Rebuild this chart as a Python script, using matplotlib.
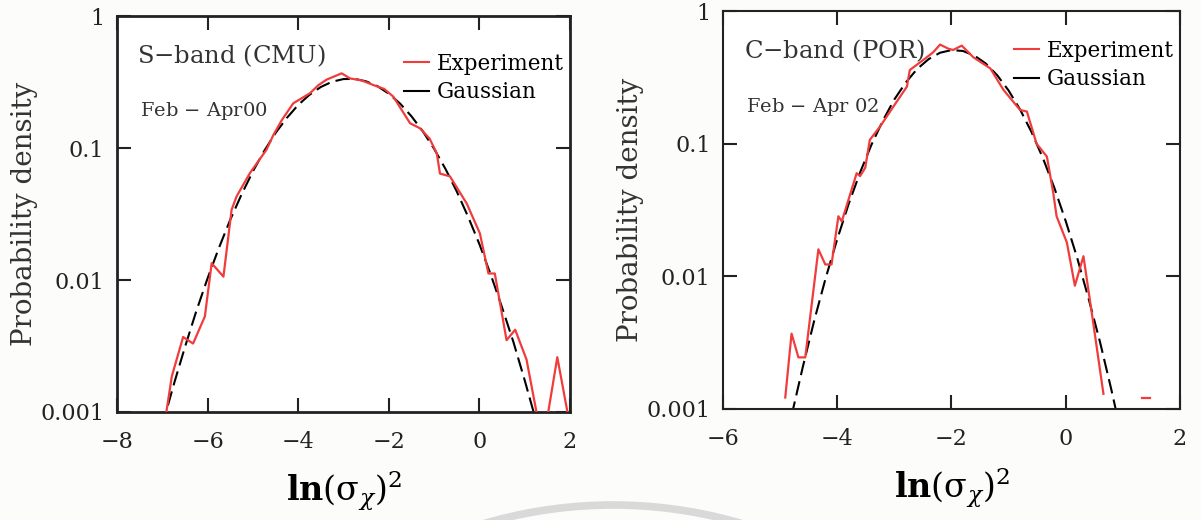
import matplotlib
matplotlib.use("Agg")
import matplotlib.pyplot as plt
from matplotlib.lines import Line2D
from matplotlib.patches import Arc

plt.rcParams['font.family'] = ['DejaVu Serif']
plt.rcParams['mathtext.fontset'] = 'dejavuserif'

# S-band (CMU), Feb - Apr 00
exp_x_s = [-6.93, -6.79, -6.54, -6.32, -6.06, -5.91, -5.65, -5.47, -5.36, -5.06,
           -4.70, -4.55, -4.36, -4.11, -3.74, -3.55, -3.37, -3.04, -2.86, -2.60,
           -2.34, -2.10, -1.90, -1.53, -1.31, -1.10, -0.94, -0.87, -0.65, -0.28,
           0.01, 0.20, 0.34, 0.60, 0.79, 1.04, 1.26, 1.39, 1.52, 1.72, 1.93, 2.0]
exp_y_s = [0.0009, 0.00186, 0.0037, 0.0033, 0.0053, 0.0134, 0.0106, 0.034, 0.043, 0.065,
           0.097, 0.125, 0.163, 0.218, 0.26, 0.30, 0.33, 0.368, 0.337, 0.325,
           0.30, 0.28, 0.245, 0.154, 0.141, 0.118, 0.091, 0.064, 0.061, 0.038,
           0.0226, 0.0112, 0.0112, 0.0035, 0.0042, 0.0025, 0.001, 0.0004, 0.001, 0.0026, 0.00106, 0.0008]
gau_x_s = [-7.0, -6.75, -6.5, -6.25, -6.0, -5.75, -5.5, -5.25, -5.0, -4.75, -4.5, -4.25,
           -4.0, -3.75, -3.5, -3.25, -3.0, -2.75, -2.5, -2.25, -2.0, -1.75, -1.5, -1.25,
           -1.0, -0.75, -0.5, -0.25, 0.0, 0.25, 0.5, 0.75, 1.0, 1.25]
gau_y_s = [0.00079, 0.0016, 0.0031, 0.0058, 0.0103, 0.0175, 0.0286, 0.0445, 0.0665, 0.095,
           0.130, 0.169, 0.212, 0.253, 0.290, 0.318, 0.333, 0.334, 0.320, 0.294, 0.258,
           0.217, 0.174, 0.134, 0.0987, 0.0696, 0.0469, 0.0302, 0.0187, 0.0110, 0.0062,
           0.0034, 0.00174, 0.00086]

# C-band (POR), Feb - Apr 02
exp_x_c = [-4.91, -4.80, -4.68, -4.56, -4.33, -4.21, -4.10, -3.98, -3.92, -3.66, -3.60,
           -3.51, -3.43, -3.25, -3.02, -2.78, -2.73, -2.49, -2.32, -2.20, -2.05, -1.97,
           -1.82, -1.62, -1.32, -1.09, -0.80, -0.68, -0.51, -0.33, -0.22, -0.16, 0.02,
           0.16, 0.31, 0.48, 0.66]
exp_y_c = [0.00122, 0.0037, 0.00245, 0.00245, 0.016, 0.0123, 0.0123, 0.0284, 0.026, 0.060, 0.057,
           0.066, 0.107, 0.135, 0.19, 0.27, 0.36, 0.43, 0.49, 0.56, 0.52, 0.51,
           0.55, 0.45, 0.37, 0.255, 0.18, 0.175, 0.10, 0.080, 0.043, 0.0284, 0.018,
           0.0085, 0.0142, 0.0045, 0.0013]
stub_x_c = [1.33, 1.48]
stub_y_c = [0.0012, 0.0012]
gau_x_c = [-4.8, -4.6, -4.4, -4.2, -4.0, -3.8, -3.6, -3.4, -3.2, -3.0, -2.8, -2.6, -2.4,
           -2.2, -2.0, -1.8, -1.6, -1.4, -1.2, -1.0, -0.8, -0.6, -0.4, -0.2, 0.0, 0.2,
           0.4, 0.6, 0.8, 0.9]
gau_y_c = [0.00089, 0.0021, 0.0047, 0.0098, 0.0191, 0.0352, 0.0608, 0.0986, 0.150, 0.216,
           0.290, 0.367, 0.435, 0.486, 0.509, 0.501, 0.463, 0.403, 0.329, 0.252, 0.1815,
           0.1228, 0.078, 0.0466, 0.0261, 0.0138, 0.0068, 0.0032, 0.00139, 0.00089]

yticks = [0.001, 0.01, 0.1, 1]
ylabels = ['0.001', '0.01', '0.1', '1']

fig = plt.figure(figsize=(12.01, 5.2), dpi=100, facecolor='#fcfcfa')


def panel(rect, xlim, xticks, ex, ey, gx, gy, title, period, spine_w, leg_y):
    ax = fig.add_axes(rect)
    ax.set_facecolor('white')
    ax.plot(ex, ey, color='#f03c3c', lw=1.6, zorder=3)
    ax.plot(gx, gy, color='black', lw=1.5, dashes=(7, 3), zorder=2)
    ax.set_yscale('log')
    ax.set_xlim(*xlim)
    ax.set_ylim(0.001, 1)
    ax.set_xticks(xticks)
    ax.set_yticks(yticks)
    ax.set_yticklabels(ylabels)
    ax.minorticks_off()
    ax.tick_params(direction='in', top=True, right=True, length=10, width=1.5,
                   labelsize=16, colors='#222222')
    ax.tick_params(axis='x', pad=14)
    ax.tick_params(axis='y', pad=9)
    for s in ax.spines.values():
        s.set_linewidth(spine_w)
        s.set_color('#222222')
    ax.set_ylabel('Probability density', fontsize=20, color='#333333', labelpad=2)
    ax.set_xlabel(r'$\mathbf{ln}\left(\mathrm{\sigma}_{\chi}\right)^{2}$', fontsize=24, labelpad=11)
    ax.text(0.045, 0.90, title, transform=ax.transAxes, fontsize=17.5, color='#333333', va='center')
    ax.text(0.05, 0.76, period, transform=ax.transAxes, fontsize=14, color='#333333', va='center')
    hs = [Line2D([], [], color='#f03c3c', lw=1.5), Line2D([], [], color='black', lw=1.5)]
    ax.legend(hs, ['Experiment', 'Gaussian'], loc='upper right', bbox_to_anchor=(1.015, leg_y),
              frameon=False, fontsize=15.5, handlelength=1.2, handletextpad=0.35,
              labelspacing=0.3, borderaxespad=0.2)
    return ax


ax1 = panel([0.0974, 0.2077, 0.3772, 0.7615], (-8, 2), [-8, -6, -4, -2, 0, 2],
            exp_x_s, exp_y_s, gau_x_s, gau_y_s, r'S$-$band (CMU)', r'Feb $-$ Apr00', 2.0, 0.94)
ax2 = panel([0.602, 0.2135, 0.3805, 0.765], (-6, 2), [-6, -4, -2, 0, 2],
            exp_x_c, exp_y_c, gau_x_c, gau_y_c, r'C$-$band (POR)', r'Feb $-$ Apr 02', 1.5, 0.96)
ax2.plot(stub_x_c, stub_y_c, color='#f03c3c', lw=1.6)

# faint grey ring from the scanned page, bottom centre
fig.add_artist(Arc((6.13, -4.41), 9.12, 9.12, transform=fig.dpi_scale_trans,
                   color='#d9d9d9', lw=5.5, theta1=60, theta2=120, zorder=0))

fig.savefig('out.png', dpi=100, facecolor=fig.get_facecolor())
